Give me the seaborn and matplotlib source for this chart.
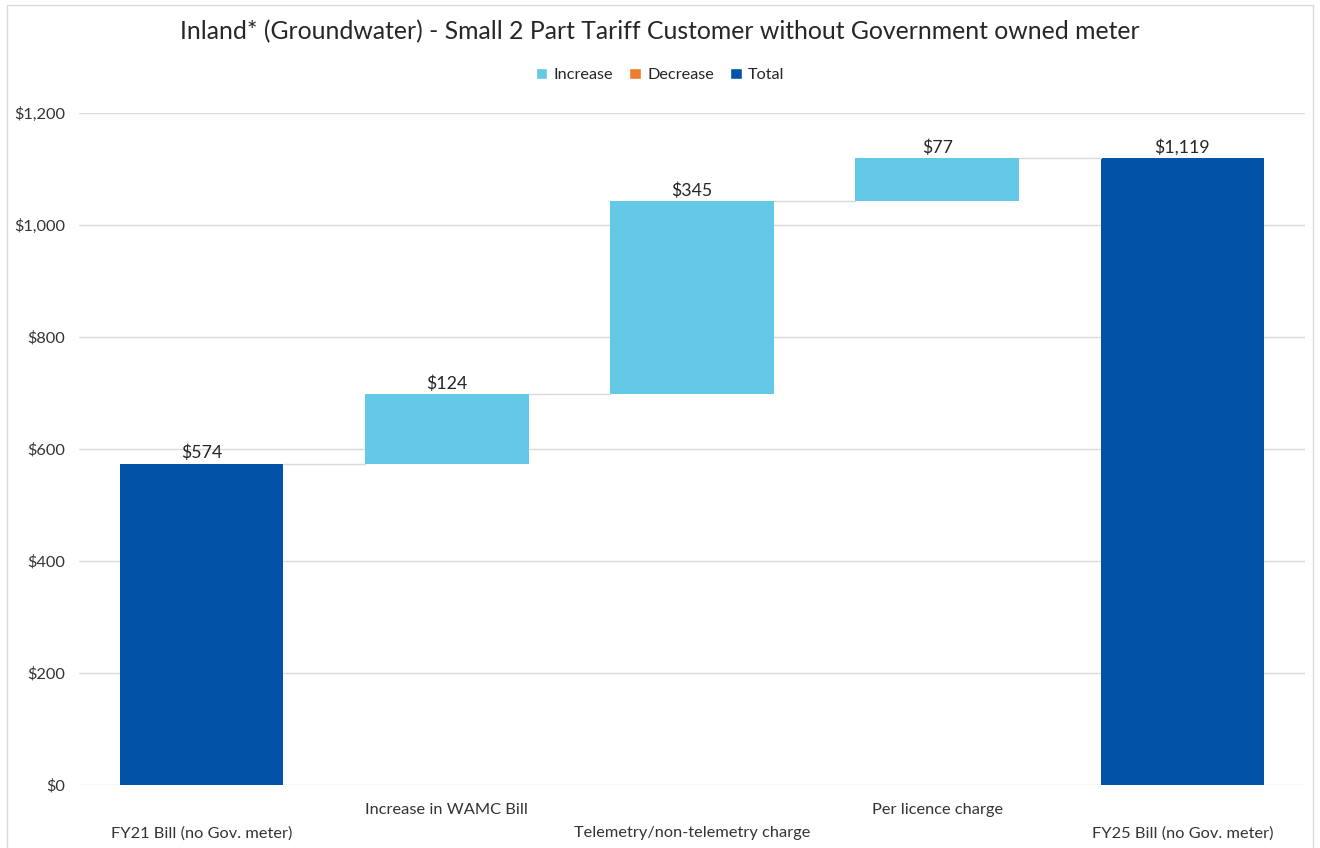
import pandas as pd
import seaborn as sns
import matplotlib.pyplot as plt
from matplotlib.patches import Patch, Rectangle

# chart data
categories = ["FY21 Bill (no Gov. meter)", "Increase in WAMC Bill",
              "Telemetry/non-telemetry charge", "Per licence charge",
              "FY25 Bill (no Gov. meter)"]
values = [574, 124, 345, 77, 1119]
kinds = ["Total", "Increase", "Increase", "Increase", "Total"]
y_ticks = [0, 200, 400, 600, 800, 1000, 1200]

colors = {"Increase": "#63C9E7", "Decrease": "#ED7D31", "Total": "#0053A6"}

# floating bar bottoms for the waterfall
bottoms = []
running = 0
for v, k in zip(values, kinds):
    if k == "Total":
        bottoms.append(0)
        running = v
    else:
        bottoms.append(running)
        running += v
tops = [b + v for b, v in zip(bottoms, values)]

df = pd.DataFrame({"category": categories, "value": values, "bottom": bottoms, "kind": kinds})

sns.set_style("white")
plt.rcParams["font.family"] = ["Lato", "DejaVu Sans"]

fig = plt.figure(figsize=(13.2, 8.48), dpi=100)
ax = fig.add_axes([79 / 1320, 63 / 848, 1226 / 1320, 672 / 848])

bar_w = 0.667
sns.barplot(data=df, x="category", y="value", bottom=df["bottom"].values,
            width=bar_w, ax=ax, linewidth=0, color=colors["Increase"], saturation=1)
for patch, k in zip(ax.patches, df["kind"]):
    patch.set_facecolor(colors[k])

# connector lines between bars
for i in range(len(values) - 1):
    ax.plot([i + bar_w / 2, i + 1 - bar_w / 2], [tops[i], tops[i]],
            color="#D9D9D9", lw=1, zorder=1)

# value labels
for i, (t, v) in enumerate(zip(tops, values)):
    ax.text(i, t + 4, f"${v:,}", ha="center", va="bottom", fontsize=12.8, color="#262626")

ax.set_xlim(-0.5, 4.5)
ax.set_ylim(0, 1200)
ax.set_yticks(y_ticks)
ax.set_yticklabels([f"${t:,}" for t in y_ticks], fontsize=11.8, color="#333333")
ax.yaxis.grid(True, color="#D9D9D9", lw=1)
ax.set_axisbelow(True)
ax.tick_params(axis="y", length=0, pad=10)
ax.tick_params(axis="x", length=0, pad=13)

# staggered category labels
xlabels = [c if i % 2 == 1 else "\n" + c for i, c in enumerate(categories)]
ax.set_xticks(range(len(categories)))
ax.set_xticklabels(xlabels, fontsize=11.8, color="#333333", linespacing=1.8)
ax.set_xlabel("")
ax.set_ylabel("")
for s in ["top", "right", "left", "bottom"]:
    ax.spines[s].set_visible(False)

fig.text(0.5, 1 - 32 / 848, "Inland* (Groundwater) - Small 2 Part Tariff Customer without Government owned meter",
         ha="center", va="center", fontsize=17.8, color="#262626")

handles = [Patch(facecolor=colors[k], label=k) for k in ["Increase", "Decrease", "Total"]]
fig.legend(handles=handles, loc="center", bbox_to_anchor=(0.5, 1 - 75 / 848), ncol=3,
           frameon=False, fontsize=11.7, handlelength=0.7, handleheight=0.7,
           handletextpad=0.4, columnspacing=1.0)

fig.add_artist(Rectangle((7 / 1320, -0.01), 1306 / 1320, 1.0 - 5 / 848 + 0.01,
                         transform=fig.transFigure, fill=False, edgecolor="#D9D9D9", lw=1))

fig.savefig("out.png", dpi=100)
